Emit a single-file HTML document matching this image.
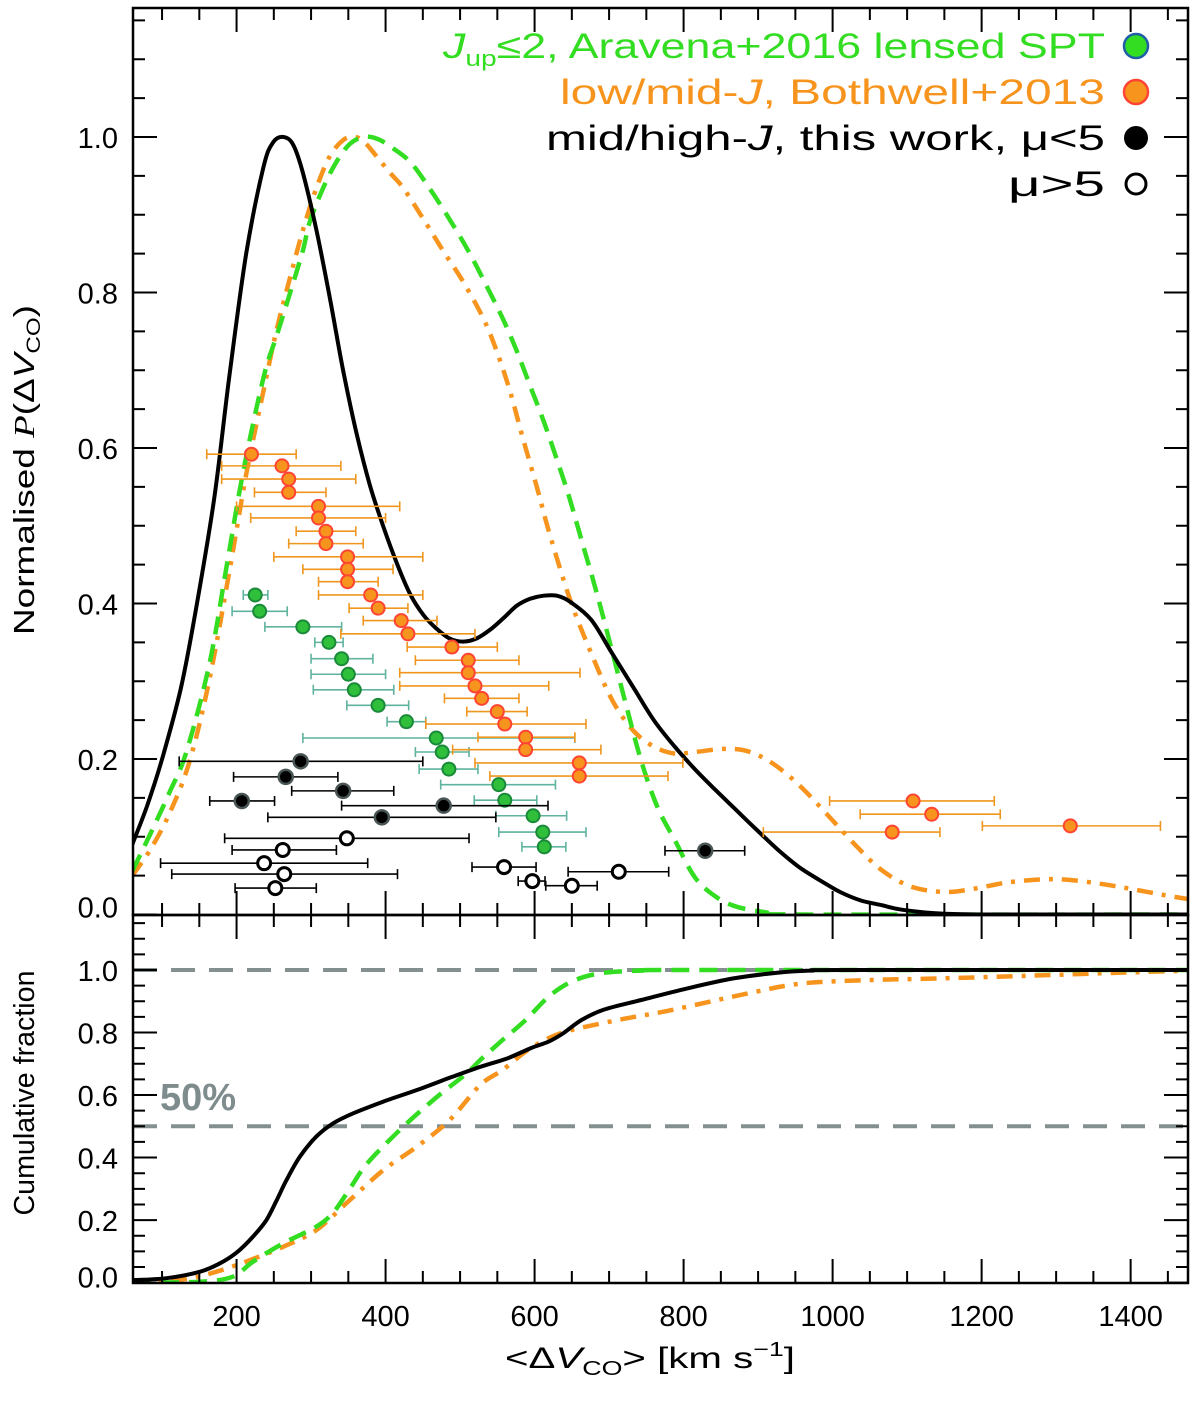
<!DOCTYPE html>
<html><head><meta charset="utf-8">
<style>
html,body{margin:0;padding:0;background:#fff;}
svg{display:block;font-family:"Liberation Sans",sans-serif;}
</style></head>
<body>
<svg id="chart" width="1200" height="1401" viewBox="0 0 1200 1401" xmlns="http://www.w3.org/2000/svg">
<defs>
<clipPath id="clipTop"><rect x="133" y="8" width="1055" height="907"/></clipPath>
<clipPath id="clipBot"><rect x="133" y="915" width="1055" height="368"/></clipPath>
</defs>
<g id="gTop"></g>
<g id="gBot"></g>
<g id="gAxes"></g>
<g font-size="35">
<text x="443" y="58" textLength="662" lengthAdjust="spacingAndGlyphs" fill="#33dd22"><tspan font-style="italic">J</tspan><tspan font-size="22" dy="8">up</tspan><tspan dy="-8">≤2, Aravena+2016 lensed SPT</tspan></text>
<circle cx="1136" cy="46" r="12" fill="#33dd22" stroke="#1f5fa8" stroke-width="2.5"/>
<text x="560" y="104" textLength="545" lengthAdjust="spacingAndGlyphs" fill="#f7941d">low/mid-<tspan font-style="italic">J</tspan>, Bothwell+2013</text>
<circle cx="1136" cy="92" r="12" fill="#f7941d" stroke="#ff4433" stroke-width="2.5"/>
<text x="546" y="150" textLength="559" lengthAdjust="spacingAndGlyphs" fill="#000">mid/high-<tspan font-style="italic">J</tspan>, this work, μ&lt;5</text>
<circle cx="1136" cy="138" r="12" fill="#000"/>
<text x="1008" y="196" textLength="97" lengthAdjust="spacingAndGlyphs" fill="#000">μ&gt;5</text>
<circle cx="1136" cy="184" r="10" fill="none" stroke="#000" stroke-width="3"/>
</g>
<text x="160" y="1110" font-size="38" font-weight="bold" fill="#7f8c8d">50%</text>
<text transform="translate(34,470) rotate(-90)" text-anchor="middle" font-size="29" textLength="330" lengthAdjust="spacingAndGlyphs">Normalised <tspan font-style="italic" font-family="Liberation Serif">P</tspan>(Δ<tspan font-style="italic">V</tspan><tspan font-size="19" dy="6">CO</tspan><tspan dy="-6">)</tspan></text>
<text transform="translate(34,1093) rotate(-90)" text-anchor="middle" font-size="29" textLength="245" lengthAdjust="spacingAndGlyphs">Cumulative fraction</text>
<text x="505" y="1368" font-size="30" textLength="290" lengthAdjust="spacingAndGlyphs">&lt;Δ<tspan font-style="italic">V</tspan><tspan font-size="20" dy="7">CO</tspan><tspan dy="-7">&gt; [km s</tspan><tspan font-size="20" dy="-12">−1</tspan><tspan dy="12">]</tspan></text>
</svg>
<script>
// ---- data ----
const pdfBlackX=[60,80,100,125,145,170,190,213,236,249,263,276,289,307,325,343,361,379,397,415,433,451,468,486,504,522,540,558,576,594,612,630,648,676,704,732,760,788,816,843,871,899,927,955,983,1010,1038,1066,1094,1150,1233,1480];
const pdfBlackY=[0.09,0.14,0.2,0.29,0.39,0.535,0.69,0.85,0.961,0.993,1.0,0.99,0.954,0.881,0.794,0.70,0.619,0.552,0.499,0.452,0.412,0.385,0.368,0.355,0.351,0.355,0.366,0.381,0.397,0.406,0.41,0.41,0.402,0.379,0.336,0.293,0.25,0.216,0.186,0.16,0.134,0.108,0.083,0.061,0.044,0.029,0.018,0.012,0.006,0.001,0,0];
const pdfGreenX=[60,84,110,133,164,187,209,236,254,272,289,298,316,334,352,370,388,406,433,459,486,513,540,558,576,594,612,630,647,665,683,701,721,743,765,788,815,843,871,910,955,1480];
const pdfGreenY=[0.056,0.103,0.157,0.21,0.324,0.45,0.57,0.69,0.745,0.8,0.854,0.89,0.934,0.968,0.991,1.0,0.998,0.988,0.968,0.934,0.894,0.85,0.80,0.765,0.725,0.68,0.635,0.585,0.535,0.475,0.415,0.35,0.276,0.198,0.138,0.096,0.048,0.023,0.01,0.003,0,0];
const pdfOrangeX=[60,84,110,137,164,191,213,236,254,272,289,307,325,343,357,370,388,406,424,451,477,504,531,549,567,585,603,620,648,676,704,732,760,788,815,854,882,910,938,966,1000,1033,1066,1105,1150,1189,1233,1278,1311,1356,1400,1445,1489];
const pdfOrangeY=[0.05,0.083,0.13,0.197,0.304,0.445,0.566,0.673,0.753,0.82,0.88,0.934,0.975,0.996,1.0,0.995,0.975,0.954,0.934,0.894,0.854,0.814,0.767,0.725,0.673,0.61,0.55,0.49,0.404,0.336,0.276,0.237,0.216,0.207,0.209,0.213,0.211,0.2,0.181,0.156,0.121,0.087,0.057,0.036,0.029,0.033,0.041,0.045,0.045,0.04,0.033,0.025,0.018];
const cumBlackX=[61,106,151,178,200,222,240,254,267,285,307,330,357,397,442,486,527,564,595,619,638,663,694,743,805,867,929,972,1021,1480];
const cumBlackY=[0.008,0.014,0.035,0.062,0.096,0.147,0.2,0.264,0.328,0.403,0.467,0.51,0.542,0.579,0.616,0.655,0.69,0.718,0.75,0.771,0.797,0.84,0.874,0.904,0.941,0.973,0.992,0.998,1.0,1.0];
const cumGreenX=[61,151,195,222,263,307,330,352,375,419,464,509,527,557,588,619,650,687,743,805,1480];
const cumGreenY=[0,0.003,0.019,0.067,0.126,0.179,0.225,0.3,0.38,0.488,0.584,0.67,0.712,0.776,0.84,0.915,0.963,0.989,0.998,1.0,1.0];
const cumOrangeX=[61,128,173,218,263,307,352,397,442,486,527,557,588,619,650,712,774,836,898,960,1052,1145,1269,1393,1480];
const cumOrangeY=[0.001,0.01,0.035,0.072,0.115,0.168,0.264,0.36,0.435,0.52,0.632,0.68,0.739,0.782,0.808,0.84,0.867,0.899,0.931,0.957,0.968,0.973,0.982,0.992,0.998];
// Bothwell+2013 points
const orangeX=[220,261,270,270,310,310,320,320,349,349,349,380,390,421,430,489,511,511,520,529,550,560,588,588,660,660,1108,1133,1080,1319];
const orangeY=[0.592,0.577,0.56,0.543,0.525,0.51,0.493,0.477,0.46,0.444,0.428,0.411,0.394,0.378,0.361,0.344,0.327,0.311,0.294,0.278,0.261,0.245,0.228,0.212,0.195,0.178,0.146,0.129,0.106,0.114];
const orangeLo=[160,180,180,224,200,219,280,270,250,289,310,310,351,370,340,429,440,419,419,479,509,454,524,490,520,540,996,1037,907,1201];
const orangeHi=[280,340,360,320,419,400,360,370,450,410,390,450,430,469,520,550,579,661,619,579,590,669,654,689,799,779,1217,1225,1144,1440];
// Aravena+2016 points
const greenX=[225,231,289,324,341,350,358,390,428,468,476,485,552,560,598,611,613];
const greenY=[0.411,0.39,0.37,0.35,0.329,0.309,0.289,0.269,0.248,0.227,0.209,0.187,0.167,0.147,0.127,0.106,0.087];
const greenLo=[209,194,238,305,300,300,303,348,402,289,440,445,474,519,548,552,583];
const greenHi=[242,268,341,343,383,400,411,431,454,654,512,524,628,603,643,669,642];
// This work, mu<5
const blackX=[286,266,343,207,478,395,829];
const blackY=[0.197,0.177,0.159,0.146,0.14,0.125,0.082];
const blackLo=[123,196,274,164,341,242,775];
const blackHi=[450,336,411,251,618,548,882];
// This work, mu>5
const openX=[348,262,237,264,252,559,597,650,713];
const openY=[0.098,0.083,0.066,0.052,0.034,0.061,0.043,0.037,0.055];
const openLo=[184,194,98,113,198,516,578,615,645];
const openHi=[512,334,376,416,307,602,614,684,780];
const xTicks=[200,400,600,800,1000,1200,1400];
const yTopTicks=[0,0.2,0.4,0.6,0.8,1.0];
const yTopLabels=["0.0","0.2","0.4","0.6","0.8","1.0"];
const yBotTicks=[0,0.2,0.4,0.6,0.8,1.0];
const yBotLabels=["0.0","0.2","0.4","0.6","0.8","1.0"];

// ---- scales ----
const X0=61,X1=1477,PL=133,PR=1188;
function X(v){return PL+(v-X0)/(X1-X0)*(PR-PL);}
function YT(v){return 914.5-v*777.5;}
function YB(v){return 1282.6-v*312.6;}
const NS="http://www.w3.org/2000/svg";
function mk(tag,attrs,parent){const e=document.createElementNS(NS,tag);for(const k in attrs)e.setAttribute(k,attrs[k]);parent.appendChild(e);return e;}
function pathD(xs,ys,fy){
  const p=xs.map((x,i)=>[X(x),fy(ys[i])]);
  let d="M"+p[0][0].toFixed(1)+","+p[0][1].toFixed(1);
  for(let i=0;i<p.length-1;i++){
    const p0=p[i-1]||p[i],p1=p[i],p2=p[i+1],p3=p[i+2]||p2;
    const c1=[p1[0]+(p2[0]-p0[0])/6,p1[1]+(p2[1]-p0[1])/6];
    const c2=[p2[0]-(p3[0]-p1[0])/6,p2[1]-(p3[1]-p1[1])/6];
    d+="C"+c1[0].toFixed(1)+","+c1[1].toFixed(1)+" "+c2[0].toFixed(1)+","+c2[1].toFixed(1)+" "+p2[0].toFixed(1)+","+p2[1].toFixed(1);
  }
  return d;
}
const gTop=document.getElementById('gTop');
const gBot=document.getElementById('gBot');
const gAx=document.getElementById('gAxes');
const cTop=mk('g',{'clip-path':'url(#clipTop)'},gTop);
const cBot=mk('g',{'clip-path':'url(#clipBot)'},gBot);

[1.0,0.5].forEach(v=>{
  const l=mk('line',{x1:PL,x2:PR,y1:YB(v),y2:YB(v),stroke:'#84908f','stroke-width':4,'stroke-dasharray':'24,14'},cBot);
  
  
});

function curve(parent,xs,ys,fy,color,dash,name){
  const p=mk('path',{d:pathD(xs,ys,fy),fill:'none',stroke:color,'stroke-width':dash?4.5:4,'stroke-dasharray':dash||'none','stroke-linejoin':'round'},parent);
  
  
}
curve(cTop,pdfOrangeX,pdfOrangeY,YT,'#f7941d','16,9,4,9','pdf-curve-bothwell');
curve(cTop,pdfGreenX,pdfGreenY,YT,'#33dd22','18,10','pdf-curve-aravena');
curve(cTop,pdfBlackX,pdfBlackY,YT,'#000','','pdf-curve-this-work');
curve(cBot,cumOrangeX,cumOrangeY,YB,'#f7941d','16,9,4,9','cumulative-curve-bothwell');
curve(cBot,cumGreenX,cumGreenY,YB,'#33dd22','18,10','cumulative-curve-aravena');
curve(cBot,cumBlackX,cumBlackY,YB,'#000','','cumulative-curve-this-work');

function points(xs,ys,lo,hi,ecol,fill,stroke,r,sw,name){
  const g=mk('g',{},cTop);
  
  
  xs.forEach((x,i)=>{
    const y=YT(ys[i]);
    const eb=mk('path',{d:'M'+X(lo[i])+','+y+'H'+X(hi[i])+'M'+X(lo[i])+','+(y-5)+'v10M'+X(hi[i])+','+(y-5)+'v10',stroke:ecol,'stroke-width':1.6,fill:'none'},g);
    
    
  });
  xs.forEach((x,i)=>{
    const c=mk('circle',{cx:X(x),cy:YT(ys[i]),r:r,fill:fill,stroke:stroke,'stroke-width':sw},g);
    
    
  });
}
points(greenX,greenY,greenLo,greenHi,'#5fb39f','#2fbf3a','#1a8a3a',6.5,2,'aravena');
points(orangeX,orangeY,orangeLo,orangeHi,'#f0961e','#f7941d','#ff4433',6.5,2,'bothwell');
points(blackX,blackY,blackLo,blackHi,'#000','#000','#4a5555',7,2.5,'this-work-low-mu');
points(openX,openY,openLo,openHi,'#000','#fff','#000',6.5,3,'this-work-high-mu');

[[8,915],[915,1283]].forEach((r,k)=>{
  const f=mk('rect',{x:PL,y:r[0],width:PR-PL,height:r[1]-r[0],fill:'none',stroke:'#000','stroke-width':2.5},gAx);
  
  
});
let tk='';
for(let v=100;v<=1450;v+=50){
  const x=X(v),maj=(v%200===0);const L=maj?24:12;
  tk+='M'+x+',915v'+(-L)+'M'+x+',915v'+L+'M'+x+',1283v'+(-L)+'M'+x+',8v'+L;
}
for(let i=0;i<=23;i++){
  const v=i*0.05,y=YT(v),maj=(i%4===0),L=maj?24:12;
  if(y<8)continue;
  tk+='M'+PL+','+y+'h'+L+'M'+PR+','+y+'h'+(-L);
}
for(let i=0;i<=23;i++){
  const v=i*0.05,y=YB(v),maj=(i%4===0),L=maj?24:12;
  if(y<915)continue;
  tk+='M'+PL+','+y+'h'+L+'M'+PR+','+y+'h'+(-L);
}
const tp=mk('path',{d:tk,stroke:'#000','stroke-width':2,fill:'none'},gAx);


xTicks.forEach(v=>{
  const t=mk('text',{x:X(v),y:1326,'text-anchor':'middle','font-size':29},gAx);
  t.textContent=String(v);
  
  
});
yTopTicks.forEach((v,i)=>{
  const t=mk('text',{x:118,y:YT(v)+11-(v===0?8:0),'text-anchor':'end','font-size':29},gAx);
  t.textContent=yTopLabels[i];
  
  
});
yBotTicks.forEach((v,i)=>{
  const t=mk('text',{x:118,y:YB(v)+11-(v===0?6:0),'text-anchor':'end','font-size':29},gAx);
  t.textContent=yBotLabels[i];
  
  
});
</script>
</body></html>
